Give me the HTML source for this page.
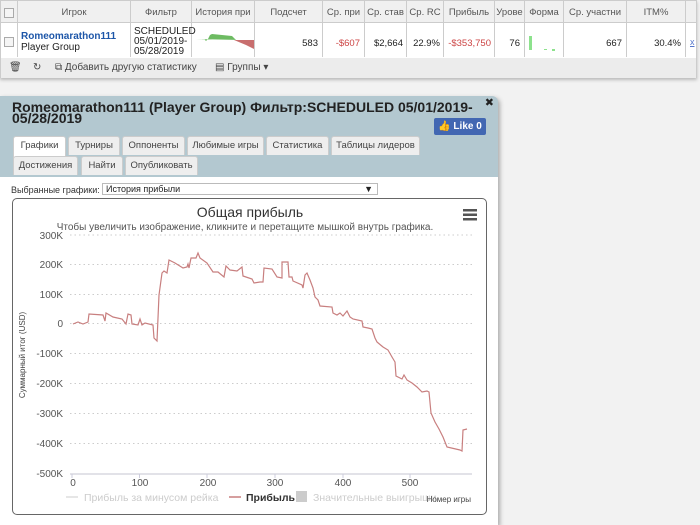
<!DOCTYPE html>
<html><head><meta charset="utf-8"><style>
*{box-sizing:border-box;margin:0;padding:0}
body{width:700px;height:525px;background:#f2f2f2;font-family:"Liberation Sans","DejaVu Sans",sans-serif;position:relative;overflow:hidden;font-size:10px;color:#222}
.top{position:absolute;left:0;top:0;width:697px;height:78px;background:#fff;border:1px solid #ccc;box-shadow:0 2px 3px #bbb}
.hdr{position:absolute;top:0;height:22px;background:#f0f0f0;border-bottom:1px solid #ccc;width:100%}
.c{position:absolute;top:0;height:56px;border-right:1px solid #ccc;font-size:9.5px}
.c span.h{position:absolute;top:6px;left:0;right:0;text-align:center;color:#555;white-space:nowrap;overflow:hidden}
.tb{position:absolute;top:57px;left:0;width:100%;height:20px;background:#ececec;color:#444;font-size:10px}
.modal{position:absolute;left:0;top:96px;width:498px;height:429px;background:#b3c8d0;border-radius:0 6px 0 0;box-shadow:2px 2px 4px #aaa}
.tab{position:absolute;height:19px;background:#eee;border:1px solid #ccc;border-bottom:none;font-size:9.5px;color:#444;text-align:center;line-height:18px;border-radius:3px 3px 0 0}
.content{position:absolute;left:0;top:177px;width:498px;height:348px;background:#fff}
</style></head><body>
<div class="top">
 <div class="hdr"></div>
 <div class="c" style="left:0;width:17px"><div style="position:absolute;left:3px;top:7px;width:10px;height:10px;border:1px solid #aaa;background:#f5f5f5"></div><div style="position:absolute;left:3px;top:36px;width:10px;height:10px;border:1px solid #aaa;background:#f5f5f5"></div></div>
 <div class="c" style="left:17px;width:113px"><span class="h">Игрок</span><div style="position:absolute;left:3px;top:30px;font-weight:bold;color:#1d56a8;font-size:10px">Romeomarathon111</div><div style="position:absolute;left:3px;top:41px;font-size:10px">Player Group</div></div>
 <div class="c" style="left:130px;width:61px"><span class="h">Фильтр</span><div style="position:absolute;left:3px;top:26px;line-height:10px;font-size:10px">SCHEDULED<br>05/01/2019-<br>05/28/2019</div></div>
 <div class="c" style="left:191px;width:63px"><span class="h">История при</span>
 <svg style="position:absolute;left:4px;top:30px" width="58" height="18"><path d="M0 8 L8 8 L10 10 L12 8 L14 4 L16 3 L36 5 L40 9 L44 9 Z" fill="#6dbb62"/><path d="M38 9 L58 9 L58 18 L50 14 Z" fill="#c86e6e"/></svg></div>
 <div class="c" style="left:254px;width:68px;text-align:right"><span class="h">Подсчет</span><div style="position:absolute;right:4px;top:37px">583</div></div>
 <div class="c" style="left:322px;width:42px"><span class="h">Ср. при</span><div style="position:absolute;right:4px;top:37px;color:#c44">-$607</div></div>
 <div class="c" style="left:364px;width:42px"><span class="h">Ср. став</span><div style="position:absolute;right:3px;top:37px">$2,664</div></div>
 <div class="c" style="left:406px;width:37px"><span class="h">Ср. RC</span><div style="position:absolute;right:3px;top:37px">22.9%</div></div>
 <div class="c" style="left:443px;width:51px"><span class="h">Прибыль</span><div style="position:absolute;right:3px;top:37px;color:#c44">-$353,750</div></div>
 <div class="c" style="left:494px;width:30px"><span class="h">Урове</span><div style="position:absolute;right:4px;top:37px">76</div></div>
 <div class="c" style="left:524px;width:39px"><span class="h">Форма</span><div style="position:absolute;left:4px;top:35px;width:3px;height:14px;background:#8de28d"></div><div style="position:absolute;left:19px;top:48px;width:3px;height:1px;background:#8de28d"></div><div style="position:absolute;left:27px;top:48px;width:3px;height:2px;background:#8de28d"></div></div>
 <div class="c" style="left:563px;width:63px"><span class="h">Ср. участни</span><div style="position:absolute;right:4px;top:37px">667</div></div>
 <div class="c" style="left:626px;width:59px"><span class="h">ITM%</span><div style="position:absolute;right:4px;top:37px">30.4%</div></div>
 <div style="position:absolute;left:689px;top:36px;color:#5577cc;text-decoration:underline;font-size:9px">x</div>
 <div class="tb"><span style="position:absolute;left:8px;top:4px">🗑</span><span style="position:absolute;left:32px;top:4px">↻</span><span style="position:absolute;left:54px;top:4px">⧉ Добавить другую статистику</span><span style="position:absolute;left:214px;top:4px">▤ Группы ▾</span></div>
</div>
<div class="modal">
 <div style="position:absolute;left:12px;top:6px;font-size:14px;font-weight:bold;line-height:11px;color:#222;white-space:nowrap">Romeomarathon111 (Player Group) Фильтр:SCHEDULED 05/01/2019-<br>05/28/2019</div>
 <div style="position:absolute;right:4px;top:0;font-size:11px;font-weight:bold">✖</div>
 <div style="position:absolute;left:434px;top:22px;width:52px;height:17px;background:#4267b2;border-radius:2px;color:#fff;font-weight:bold;font-size:10px;line-height:17px;text-align:center">👍 Like 0</div>
 <div class="tab" style="left:13px;top:40px;width:53px;background:#fff;height:22px">Графики</div>
 <div class="tab" style="left:68px;top:40px;width:52px">Турниры</div>
 <div class="tab" style="left:122px;top:40px;width:63px">Оппоненты</div>
 <div class="tab" style="left:187px;top:40px;width:77px">Любимые игры</div>
 <div class="tab" style="left:266px;top:40px;width:63px">Статистика</div>
 <div class="tab" style="left:331px;top:40px;width:89px">Таблицы лидеров</div>
 <div class="tab" style="left:13px;top:60px;width:65px">Достижения</div>
 <div class="tab" style="left:81px;top:60px;width:42px">Найти</div>
 <div class="tab" style="left:125px;top:60px;width:73px">Опубликовать</div>
</div>
<div class="content">
 <div style="position:absolute;left:11px;top:8px;font-size:9px;color:#333">Выбранные графики:</div>
 <div style="position:absolute;left:102px;top:6px;width:276px;height:12px;border:1px solid #bbb;font-size:9px;padding-left:3px;line-height:10px">История прибыли<span style="position:absolute;right:4px">▼</span></div>
</div>
<div style="position:absolute;left:12px;top:198px;width:475px;height:317px;border:1px solid #666;border-radius:5px;background:#fff"></div>
<svg style="position:absolute;left:0;top:0" width="700" height="525">
 <g font-family="Liberation Sans,DejaVu Sans,sans-serif">
 <text x="250" y="217" text-anchor="middle" font-size="14" fill="#333">Общая прибыль</text>
 <text x="245" y="230" text-anchor="middle" font-size="10" fill="#555">Чтобы увеличить изображение, кликните и перетащите мышкой внутрь графика.</text>
 <rect x="463" y="209" width="14" height="2.5" fill="#555"/><rect x="463" y="213.5" width="14" height="2.5" fill="#555"/><rect x="463" y="218" width="14" height="2.5" fill="#555"/>
 <g stroke="#ccc" stroke-dasharray="1.5,3" stroke-width="1">
  <line x1="70" x2="472" y1="235" y2="235"/><line x1="70" x2="472" y1="264.5" y2="264.5"/><line x1="70" x2="472" y1="294.5" y2="294.5"/><line x1="70" x2="472" y1="323.5" y2="323.5"/><line x1="70" x2="472" y1="353.5" y2="353.5"/><line x1="70" x2="472" y1="383.5" y2="383.5"/><line x1="70" x2="472" y1="413.5" y2="413.5"/><line x1="70" x2="472" y1="443.5" y2="443.5"/>
 </g>
 <line x1="70" x2="472" y1="474" y2="474" stroke="#d8d8e0" stroke-width="1.5"/>
 <g stroke="#ccd" stroke-width="1"><line x1="72" x2="72" y1="474" y2="478"/><line x1="139.5" x2="139.5" y1="474" y2="478"/><line x1="207" x2="207" y1="474" y2="478"/><line x1="275" x2="275" y1="474" y2="478"/><line x1="343" x2="343" y1="474" y2="478"/><line x1="410" x2="410" y1="474" y2="478"/></g>
 <g font-size="10" fill="#555" text-anchor="end">
  <text x="63" y="239">300K</text><text x="63" y="268">200K</text><text x="63" y="298">100K</text><text x="63" y="327">0</text><text x="63" y="357">-100K</text><text x="63" y="387">-200K</text><text x="63" y="417">-300K</text><text x="63" y="447">-400K</text><text x="63" y="477">-500K</text>
 </g>
 <g font-size="10" fill="#555" text-anchor="middle">
  <text x="73" y="486">0</text><text x="140" y="486">100</text><text x="208" y="486">200</text><text x="275" y="486">300</text><text x="343" y="486">400</text><text x="410" y="486">500</text>
 </g>
 <text transform="translate(25,355) rotate(-90)" text-anchor="middle" font-size="8" fill="#444">Суммарный итог (USD)</text>
 <polyline fill="none" stroke="#c87f7f" stroke-width="1.2" points="73,324 78,322 83,324 88,322 89,314 103,315 105,321 106,313 113,317 122,319 126,324 128,314 131,315 132,324 138,325 140,319 142,325 145,323 153,325 154,338 157,341 159,295 162,273 164,271 167,273 169,260 175,263 183,268 187,267 188,264 189,268 191,258 196,258 198,253 200,258 207,263 213,272 218,272 224,277 226,266 230,270 237,271 242,267 243,276 252,279 254,283 260,282 263,282 264,268 272,269 277,277 282,278 282,262 288,262 289,277 292,277 293,281 302,285 303,288 305,275 307,273 310,280 313,288 315,297 318,300 320,306 332,307 333,313 337,315 340,313 343,316 347,311 350,317 353,319 362,321 363,327 368,328 372,329 375,338 377,342 383,347 388,350 392,357 395,362 396,376 402,379 404,375 407,380 412,383 417,387 422,392 427,391 429,392 431,413 435,422 439,429 443,437 447,447 460,450 462,451 463,430 467,429"/>
 <line x1="66" x2="78" y1="497" y2="497" stroke="#ddd" stroke-width="1.5"/>
 <text x="84" y="501" font-size="10.5" fill="#ccc">Прибыль за минусом рейка</text>
 <line x1="229" x2="241" y1="497" y2="497" stroke="#c87f7f" stroke-width="1.5"/>
 <text x="246" y="501" font-size="10.5" fill="#333" font-weight="bold">Прибыль</text>
 <rect x="296" y="491" width="11" height="11" fill="#ccc"/>
 <text x="313" y="501" font-size="10.5" fill="#ccc">Значительные выигрыши</text>
 <text x="471" y="502" text-anchor="end" font-size="8" fill="#444">Номер игры</text>
 </g>
</svg>
</body></html>
